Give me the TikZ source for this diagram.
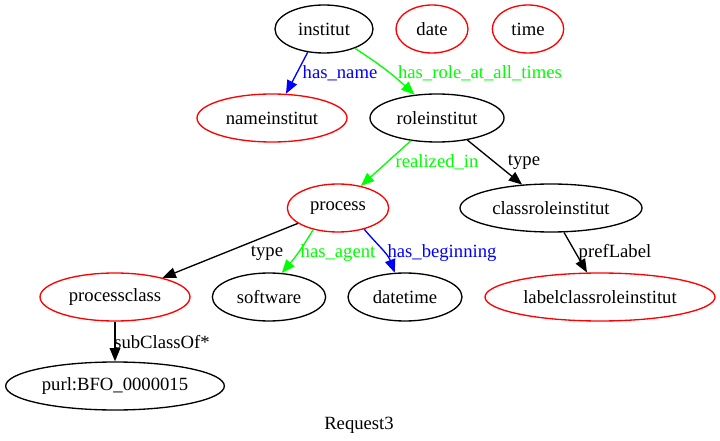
\documentclass[tikz,border=0pt]{standalone}
\usepackage{fontspec}
\setmainfont{Liberation Serif}
\usetikzlibrary{shapes.geometric,arrows.meta}
\definecolor{gvgreen}{RGB}{0,255,0}
\definecolor{gvblue}{RGB}{0,0,255}
\definecolor{gvred}{RGB}{255,0,0}
\tikzset{
  ent/.style={ellipse, draw=black, line width=1pt, inner sep=0pt, minimum height=36pt, font=\fontsize{14}{16}\selectfont},
  redent/.style={ent, draw=gvred},
  lbl/.style={inner sep=0pt, font=\fontsize{14}{16}\selectfont},
  edge/.style={line width=1pt, -{Triangle[length=10pt,width=8pt]}},
}
\begin{document}
\begin{tikzpicture}[x=0.75pt,y=-0.75pt]
\useasboundingbox (0,0) rectangle (720,441);
% nodes
\node[ent, minimum width=73.5pt] (institut) at (324,29) {institut};
\node[redent, minimum width=54pt] (date) at (432,29) {date};
\node[redent, minimum width=53.5pt] (time) at (528,29) {time};
\node[redent, minimum width=112.5pt] (nameinstitut) at (272,118) {nameinstitut};
\node[ent, minimum width=100.5pt] (roleinstitut) at (437,118) {roleinstitut};
\node[redent, minimum width=76pt] (process) at (338,208) {process};
\node[ent, minimum width=136.5pt] (classroleinstitut) at (551,208) {classroleinstitut};
\node[redent, minimum width=112.5pt] (processclass) at (115,297) {processclass};
\node[ent, minimum width=85pt] (software) at (269,297) {software};
\node[ent, minimum width=85.5pt] (datetime) at (405,297) {datetime};
\node[redent, minimum width=172.5pt] (labelclass) at (600,297) {labelclassroleinstitut};
\node[ent, minimum width=164pt] (purl) at (115,386) {purl:BFO\_0000015};
\node[lbl] (title) at (359,425) {Request3};
% edges
\draw[edge, gvblue] (institut.235) -- (nameinstitut.60);
\draw[edge, gvgreen] (institut.328) to[bend left=5] (roleinstitut.134);
\draw[edge, gvgreen] (roleinstitut.221) -- (process.44);
\draw[edge] (roleinstitut.324) -- (classroleinstitut.141);
\draw[edge] (process.201) -- (processclass.22);
\draw[edge, gvgreen] (process.221) to[bend left=5] (software.62);
\draw[edge, gvblue] (process.321) to[out=-50,in=110] (datetime.113);
\draw[edge] (classroleinstitut.298) -- (labelclass.118);
\draw[edge] (processclass.south) -- (purl.north);
% edge labels
\node[lbl, text=gvblue] (l1) at (340,73) {has\_name};
\node[lbl, text=gvgreen] (l2) at (480,73) {has\_role\_at\_all\_times};
\node[lbl, text=gvgreen] (l3) at (437,162) {realized\_in};
\node[lbl] (l4) at (524,162) {type};
\node[lbl] (l5) at (267,253) {type};
\node[lbl, text=gvgreen] (l6) at (338,253) {has\_agent};
\node[lbl, text=gvblue] (l7) at (442,253) {has\_beginning};
\node[lbl] (l8) at (615,253) {prefLabel};
\node[lbl] (l9) at (162,342) {subClassOf*};
\end{tikzpicture}
\end{document}
